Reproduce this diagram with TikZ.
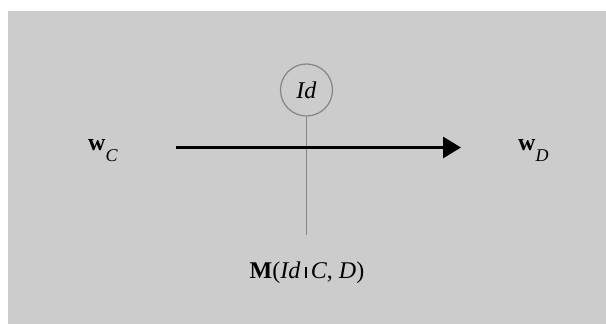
\documentclass[tikz,border=0pt]{standalone}
\usepackage{fontspec}
\setmainfont{Liberation Serif}
\usetikzlibrary{arrows.meta}

\definecolor{panelgray}{HTML}{CCCCCC}
\definecolor{ringgray}{HTML}{858585}

% lowered subscript and short bar as printed
\newcommand{\lowsub}[1]{\raisebox{-0.42em}{\fontsize{18}{20}\selectfont\textit{#1}}}
\newcommand{\shortbar}{\rule[0.06em]{0.08em}{0.42em}}

\begin{document}
\begin{tikzpicture}[x=1pt,y=1pt,
    lbl/.style={inner sep=0pt, font=\fontsize{24}{28}\selectfont},
    ring/.style={circle, draw=ringgray, line width=1.2pt, minimum size=52pt, inner sep=0pt}]
    % Background
    \useasboundingbox (0,0) rectangle (606,324);
    \fill[white] (0,0) rectangle (606,324);
    \fill[panelgray] (8,0) rectangle (606,313);

    % Identity node and its stem
    \node[ring, lbl] (id) at (306.5,234) {\textit{Id}};
    \coordinate (stem) at (306.5,89);
    \draw[ringgray, line width=1pt] (id.south) -- (stem);

    % Main arrow
    \coordinate (start) at (176,176.5);
    \coordinate (end) at (461,176.5);
    \draw[line width=3pt, -{Triangle[length=18pt,width=21pt]}] (start) -- (end);

    % Labels
    \node[lbl, anchor=base west] (wC) at (88,173) {\textbf{w}\lowsub{C}};
    \node[lbl, anchor=base west] (wD) at (518,173) {\textbf{w}\lowsub{D}};
    \node[lbl, anchor=base] (mlabel) at (307,45) {\textbf{M}(\textit{Id}\hspace{0.18em}\shortbar\hspace{0.18em}\textit{C}, \textit{D})};
\end{tikzpicture}
\end{document}
